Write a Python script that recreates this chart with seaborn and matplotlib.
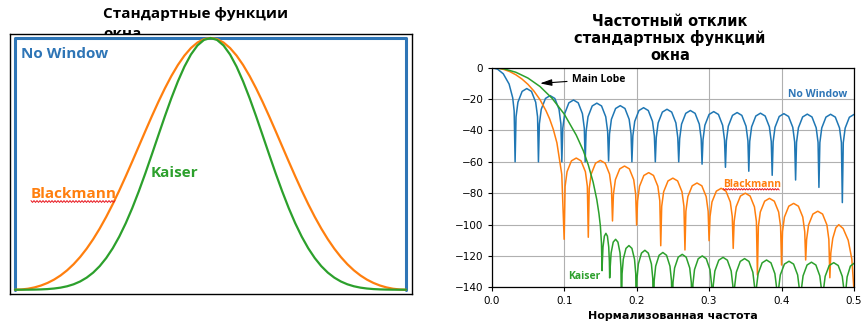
import numpy as np
import pandas as pd
import matplotlib
matplotlib.use("Agg")
import matplotlib.pyplot as plt
import seaborn as sns
from matplotlib.lines import Line2D

# ---------------- data: left panel (window shapes, half-sample grid) ----------------
sample_n = [i * 0.5 for i in range(61)]
rect_n = [0, 0, 30, 30]
rect_w = [0.0, 1.0, 1.0, 0.0]
blackman_half = [0.0, 0.0010, 0.0040, 0.0092, 0.0168, 0.0270, 0.0402, 0.0568, 0.0771, 0.1014,
                 0.1300, 0.1631, 0.2008, 0.2430, 0.2895, 0.3400, 0.3940, 0.4509, 0.5098, 0.5698,
                 0.6300, 0.6892, 0.7462, 0.7999, 0.8492, 0.8930, 0.9303, 0.9603, 0.9822, 0.9955,
                 1.0]
kaiser_half = [0.0, 0.0001, 0.0002, 0.0006, 0.0013, 0.0026, 0.0048, 0.0083, 0.0137, 0.0216,
               0.0328, 0.0480, 0.0680, 0.0937, 0.1258, 0.1647, 0.2109, 0.2643, 0.3246, 0.3911,
               0.4623, 0.5373, 0.6135, 0.6891, 0.7613, 0.8279, 0.8865, 0.9346, 0.9705, 0.9925,
               1.0]
blackman_w = blackman_half + blackman_half[-2::-1]
kaiser_w = kaiser_half + kaiser_half[-2::-1]

# ---------------- data: right panel (frequency response, dB) ----------------
f_nowin = [
    0.0, 0.008, 0.016, 0.024, 0.029, 0.031, 0.0323,
    0.0336, 0.0362, 0.0420, 0.0484, 0.0549, 0.0607, 0.0633, 0.0645,
    0.0658, 0.0684, 0.0742, 0.0806, 0.0871, 0.0929, 0.0955, 0.0968,
    0.0981, 0.1007, 0.1065, 0.1129, 0.1194, 0.1252, 0.1278, 0.1290,
    0.1303, 0.1329, 0.1387, 0.1451, 0.1516, 0.1574, 0.1600, 0.1613,
    0.1626, 0.1652, 0.1710, 0.1774, 0.1839, 0.1897, 0.1923, 0.1935,
    0.1948, 0.1974, 0.2032, 0.2096, 0.2161, 0.2219, 0.2245, 0.2258,
    0.2271, 0.2297, 0.2355, 0.2419, 0.2484, 0.2542, 0.2568, 0.2581,
    0.2594, 0.2620, 0.2678, 0.2742, 0.2807, 0.2865, 0.2891, 0.2903,
    0.2916, 0.2942, 0.3000, 0.3064, 0.3129, 0.3187, 0.3213, 0.3226,
    0.3239, 0.3265, 0.3323, 0.3387, 0.3452, 0.3510, 0.3536, 0.3548,
    0.3561, 0.3587, 0.3645, 0.3709, 0.3774, 0.3832, 0.3858, 0.3871,
    0.3884, 0.3910, 0.3968, 0.4032, 0.4097, 0.4155, 0.4181, 0.4194,
    0.4207, 0.4233, 0.4291, 0.4355, 0.4420, 0.4478, 0.4504, 0.4516,
    0.4529, 0.4555, 0.4613, 0.4677, 0.4742, 0.4800, 0.4826, 0.4839,
    0.4852, 0.4878, 0.4936, 0.5000]
db_nowin = [
    0.0, -0.9, -3.9, -10.4, -19.2, -27.6, -60.0,
    -31.3, -22.0, -15.1, -13.3, -15.1, -22.0, -31.3, -60.0,
    -35.8, -26.5, -19.6, -17.8, -19.6, -26.5, -35.8, -60.0,
    -38.6, -29.3, -22.4, -20.6, -22.4, -29.3, -38.6, -60.0,
    -40.6, -31.3, -24.4, -22.6, -24.4, -31.3, -40.6, -59.5,
    -42.2, -32.9, -26.0, -24.2, -26.0, -32.9, -42.2, -60.0,
    -43.5, -34.2, -27.3, -25.5, -27.3, -34.2, -43.5, -60.0,
    -44.5, -35.2, -28.3, -26.5, -28.3, -35.2, -44.5, -60.0,
    -45.3, -36.0, -29.1, -27.3, -29.1, -36.0, -45.3, -61.5,
    -46.0, -36.7, -29.8, -28.0, -29.8, -36.7, -46.0, -63.5,
    -46.6, -37.3, -30.4, -28.6, -30.4, -37.3, -46.6, -66.0,
    -47.0, -37.7, -30.8, -29.0, -30.8, -37.7, -47.0, -68.6,
    -47.3, -38.0, -31.1, -29.3, -31.1, -38.0, -47.3, -71.6,
    -47.6, -38.3, -31.4, -29.6, -31.4, -38.3, -47.6, -76.3,
    -47.7, -38.4, -31.5, -29.7, -31.5, -38.4, -47.7, -86.0,
    -47.8, -38.5, -31.6, -29.8]

f_blackman = [
    0.0, 0.0083, 0.0167, 0.025, 0.0333, 0.0417, 0.05, 0.0583, 0.0667, 0.075, 0.08, 0.085, 0.09, 0.0967, 0.1000,
    0.1013, 0.1040, 0.1100, 0.1167, 0.1233, 0.1293, 0.1320, 0.1333,
    0.1346, 0.1373, 0.1433, 0.1500, 0.1566, 0.1626, 0.1653, 0.1667,
    0.1680, 0.1707, 0.1767, 0.1833, 0.1900, 0.1960, 0.1987, 0.2000,
    0.2013, 0.2040, 0.2100, 0.2167, 0.2233, 0.2293, 0.2320, 0.2333,
    0.2346, 0.2373, 0.2433, 0.2500, 0.2566, 0.2626, 0.2653, 0.2667,
    0.2680, 0.2707, 0.2767, 0.2833, 0.2900, 0.2960, 0.2987, 0.3000,
    0.3013, 0.3040, 0.3100, 0.3167, 0.3233, 0.3293, 0.3320, 0.3333,
    0.3346, 0.3373, 0.3433, 0.3500, 0.3566, 0.3626, 0.3653, 0.3667,
    0.3680, 0.3707, 0.3767, 0.3833, 0.3900, 0.3960, 0.3987, 0.4000,
    0.4013, 0.4040, 0.4100, 0.4167, 0.4233, 0.4293, 0.4320, 0.4333,
    0.4346, 0.4373, 0.4433, 0.4500, 0.4566, 0.4626, 0.4653, 0.4667,
    0.4680, 0.4707, 0.4750, 0.4790, 0.4850, 0.4920, 0.4970, 0.5000]
db_blackman = [
    0.0, -0.3, -1.1, -2.5, -4.5, -7.2, -10.6, -14.9, -20.4, -27.5, -32.7, -39.3, -47.9, -68.0, -109.4,
    -75.6, -66.3, -59.4, -57.6, -59.4, -66.3, -75.6, -108.1,
    -77.1, -67.8, -60.9, -59.1, -60.9, -67.8, -77.1, -97.7,
    -80.7, -71.4, -64.5, -62.7, -64.5, -71.4, -80.7, -100.3,
    -84.9, -75.6, -68.7, -66.9, -68.7, -75.6, -84.9, -113.5,
    -88.4, -79.1, -72.2, -70.4, -72.2, -79.1, -88.4, -116.2,
    -91.5, -82.2, -75.3, -73.5, -75.3, -82.2, -91.5, -110.3,
    -94.9, -85.6, -78.7, -76.9, -78.7, -85.6, -94.9, -115.2,
    -98.0, -88.7, -81.8, -80.0, -81.8, -88.7, -98.0, -132.2,
    -101.3, -92.0, -85.1, -83.3, -85.1, -92.0, -101.3, -125.8,
    -104.5, -95.2, -88.3, -86.5, -88.3, -95.2, -104.5, -122.6,
    -109.5, -100.2, -93.3, -91.5, -93.3, -100.2, -109.5, -133.9,
    -118.1, -108.8, -102.0, -100.1, -102.5, -110.0, -122.0, -142.0]

f_kaiser = [
    0.0, 0.0167, 0.0333, 0.05, 0.0667, 0.0833, 0.1, 0.1167, 0.1265, 0.1333, 0.14, 0.145, 0.148, 0.150, 0.1515, 0.1523,
    0.1527, 0.1536, 0.1555, 0.1576, 0.1597, 0.1615, 0.1624, 0.1628,
    0.1635, 0.1648, 0.1677, 0.1710, 0.1742, 0.1771, 0.1784, 0.1791,
    0.1799, 0.1816, 0.1853, 0.1894, 0.1935, 0.1971, 0.1988, 0.1996,
    0.2005, 0.2024, 0.2067, 0.2114, 0.2161, 0.2204, 0.2223, 0.2232,
    0.2242, 0.2263, 0.2310, 0.2362, 0.2413, 0.2460, 0.2481, 0.2491,
    0.2502, 0.2524, 0.2574, 0.2629, 0.2684, 0.2733, 0.2755, 0.2766,
    0.2777, 0.2799, 0.2850, 0.2906, 0.2961, 0.3012, 0.3034, 0.3045,
    0.3057, 0.3080, 0.3134, 0.3193, 0.3252, 0.3305, 0.3328, 0.3340,
    0.3352, 0.3376, 0.3430, 0.3490, 0.3550, 0.3604, 0.3628, 0.3640,
    0.3652, 0.3677, 0.3732, 0.3793, 0.3854, 0.3908, 0.3933, 0.3945,
    0.3958, 0.3983, 0.4040, 0.4103, 0.4166, 0.4222, 0.4247, 0.4260,
    0.4272, 0.4297, 0.4352, 0.4413, 0.4474, 0.4528, 0.4553, 0.4565,
    0.4577, 0.4602, 0.4658, 0.4720, 0.4782, 0.4838, 0.4863, 0.4875,
    0.4885, 0.4905, 0.4950, 0.5000]
db_kaiser = [
    0.0, -0.7, -2.9, -6.6, -12.0, -19.5, -29.5, -43.0, -53.0, -62.0, -73.0, -84.0, -93.0, -101.0, -112.0, -129.4,
    -123.6, -114.3, -107.4, -105.6, -107.4, -114.3, -123.6, -134.0,
    -127.4, -118.1, -111.2, -109.4, -111.2, -118.1, -127.4, -160.0,
    -131.4, -122.1, -115.2, -113.4, -115.2, -122.1, -131.4, -160.0,
    -134.4, -125.1, -118.2, -116.4, -118.2, -125.1, -134.4, -160.0,
    -135.8, -126.5, -119.6, -117.8, -119.6, -126.5, -135.8, -160.0,
    -137.0, -127.7, -120.8, -119.0, -120.8, -127.7, -137.0, -160.0,
    -138.0, -128.7, -121.8, -120.0, -121.8, -128.7, -138.0, -160.0,
    -138.9, -129.6, -122.7, -120.9, -122.7, -129.6, -138.9, -160.0,
    -139.7, -130.4, -123.5, -121.7, -123.5, -130.4, -139.7, -160.0,
    -140.6, -131.3, -124.4, -122.6, -124.4, -131.3, -140.6, -160.0,
    -141.4, -132.1, -125.2, -123.4, -125.2, -132.1, -141.4, -160.0,
    -142.0, -132.7, -125.8, -124.0, -125.8, -132.7, -142.0, -160.0,
    -142.3, -133.0, -126.1, -124.3, -126.1, -133.0, -142.3, -160.0,
    -142.7, -133.4, -126.5, -124.7]

x_ticks = [0.0, 0.1, 0.2, 0.3, 0.4, 0.5]
x_ticklabels = ["0.0", "0.1", "0.2", "0.3", "0.4", "0.5"]
y_ticks = [-140, -120, -100, -80, -60, -40, -20, 0]

title_left = ["Стандартные функции", "окна"]
title_right = ["Частотный отклик", "стандартных функций", "окна"]
xlabel_right = "Нормализованная частота"

# ---------------- styling ----------------
sns.set_theme(style="ticks")
plt.rcParams['font.family'] = ['DejaVu Sans']
plt.rcParams['axes.unicode_minus'] = True
plt.rcParams['text.color'] = 'black'
plt.rcParams['axes.labelcolor'] = 'black'
plt.rcParams['xtick.color'] = 'black'
plt.rcParams['ytick.color'] = 'black'

C_BLUE, C_ORANGE, C_GREEN = "#1f77b4", "#ff7f0e", "#2ca02c"
C_RECT = "#2e75b6"

W, H = 868, 330
fig = plt.figure(figsize=(W / 100, H / 100), dpi=100)
fig.patch.set_facecolor("white")


def px_rect(x0, y0, x1, y1):
    return [x0 / W, 1 - y1 / H, (x1 - x0) / W, (y1 - y0) / H]


def fx(px):
    return px / W


def fy(py):
    return 1 - py / H


def wavy(x0, x1, y, amp=0.9, step=1.5):
    xs = np.arange(x0, x1 + 0.01, step)
    ys = y + amp * np.where(np.arange(len(xs)) % 2 == 0, -1, 1)
    fig.add_artist(Line2D(xs / W, 1 - ys / H, color="#e8141c", lw=0.7,
                          transform=fig.transFigure))


# ---------------- left panel ----------------
axL = fig.add_axes(px_rect(9.5, 34, 412, 293.5))
axL.set_facecolor("white")
sns.lineplot(x=rect_n, y=rect_w, ax=axL, color=C_RECT, lw=2.2, sort=False, estimator=None)
sns.lineplot(x=sample_n, y=blackman_w, ax=axL, color=C_ORANGE, lw=1.6, sort=False, estimator=None)
sns.lineplot(x=sample_n, y=kaiser_w, ax=axL, color=C_GREEN, lw=1.6, sort=False, estimator=None)
axL.set_xlim(-0.42, 30.46)
axL.set_ylim(-0.015, 1.016)
axL.set_xticks([])
axL.set_yticks([])
axL.set_xlabel("")
axL.set_ylabel("")
for sp in axL.spines.values():
    sp.set_color("black")
    sp.set_linewidth(1.0)

fig.text(fx(103), fy(18.3), title_left[0], ha="left", va="baseline", color="black",
         fontsize=11, fontweight="bold", family=["Open Sans", "DejaVu Sans"], zorder=-1)
fig.text(fx(103), fy(37.8), title_left[1], ha="left", va="baseline", color="black",
         fontsize=11, fontweight="bold", family=["Open Sans", "DejaVu Sans"], zorder=-1)

fig.text(fx(21.3), fy(58.3), "No Window", ha="left", va="baseline", color=C_RECT,
         fontsize=11, fontweight="bold", family=["Open Sans", "DejaVu Sans"])
fig.text(fx(31), fy(197.7), "Blackmann", ha="left", va="baseline", color=C_ORANGE,
         fontsize=11, fontweight="bold", family=["Open Sans", "DejaVu Sans"])
fig.text(fx(151), fy(176.7), "Kaiser", ha="left", va="baseline", color=C_GREEN,
         fontsize=11, fontweight="bold", family=["Open Sans", "DejaVu Sans"])
wavy(31, 115, 201.5)

# ---------------- right panel ----------------
axR = fig.add_axes(px_rect(491.7, 67.7, 854, 287.3))
df = pd.concat([
    pd.DataFrame({"f": f_nowin, "dB": db_nowin, "window": "No Window"}),
    pd.DataFrame({"f": f_blackman, "dB": db_blackman, "window": "Blackmann"}),
    pd.DataFrame({"f": f_kaiser, "dB": db_kaiser, "window": "Kaiser"}),
], ignore_index=True)
sns.lineplot(data=df, x="f", y="dB", hue="window",
             palette={"No Window": C_BLUE, "Blackmann": C_ORANGE, "Kaiser": C_GREEN},
             sort=False, estimator=None, lw=1.1, legend=False, ax=axR)
axR.set_xlim(0, 0.5)
axR.set_ylim(-140, 0)
axR.set_xticks(x_ticks)
axR.set_xticklabels(x_ticklabels)
axR.set_yticks(y_ticks)
axR.grid(True, color="#b0b0b0", lw=0.8)
axR.set_axisbelow(True)
axR.tick_params(labelsize=7.5, length=3, width=0.8, pad=3, colors="black")
for sp in axR.spines.values():
    sp.set_color("black")
    sp.set_linewidth(0.9)
axR.set_ylabel("")
axR.set_xlabel(xlabel_right, fontsize=8, fontweight="bold", labelpad=4, color="black")

for i, line in enumerate(title_right):
    fig.text(fx(670), fy(26 + 17.2 * i), line, ha="center", va="baseline",
             fontsize=10.5, fontweight="bold", color="black")

axR.annotate("Main Lobe", xy=(0.0667, -10.0), xycoords="data",
             xytext=(571.7, H - 81.7), textcoords="figure pixels",
             ha="left", va="baseline", fontsize=7.5, fontweight="bold",
             family=["Open Sans", "DejaVu Sans"], color="black",
             arrowprops=dict(arrowstyle="-|>,head_length=1.0,head_width=0.28",
                             color="black", lw=0.8,
                             shrinkA=1, shrinkB=0, mutation_scale=7))

fig.text(fx(788.3), fy(97.3), "No Window", ha="left", va="baseline", color=C_RECT,
         fontsize=7.5, fontweight="bold", family=["Open Sans", "DejaVu Sans"])
fig.text(fx(723.3), fy(186.7), "Blackmann", ha="left", va="baseline", color=C_ORANGE,
         fontsize=7.5, fontweight="bold", family=["Open Sans", "DejaVu Sans"])
fig.text(fx(568.3), fy(279.3), "Kaiser", ha="left", va="baseline", color=C_GREEN,
         fontsize=7.5, fontweight="bold", family=["Open Sans", "DejaVu Sans"])
wavy(723.3, 780, 189.3, amp=0.7, step=1.3)

fig.savefig("out.png", dpi=100, facecolor="white")
